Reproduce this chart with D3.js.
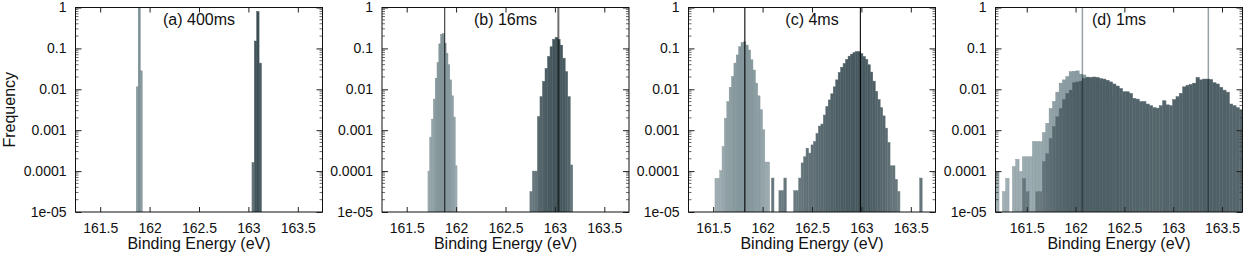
<!DOCTYPE html>
<html>
<head>
<meta charset="utf-8">
<script src="https://cdn.jsdelivr.net/npm/d3@7"></script>
<style>
  body { margin: 0; background: #fff; }
  svg { display: block; font-family: "Liberation Sans", Arial, sans-serif; }
  .tick text { font-size: 14px; fill: #111; }
</style>
</head>
<body>
<div id="chart"></div>
<script>
const WIDTH = 1243, HEIGHT = 257;
const TOP = 7.5, BOTTOM = 212, PLOT_W = 247;
const panelLeft = [75.5, 382, 688.5, 995.5];

// chart data
const titles = ["(a) 400ms", "(b) 16ms", "(c) 4ms", "(d) 1ms"];
const xTicks = [161.5, 162, 162.5, 163, 163.5];
const yTicks = [1e-5, 1e-4, 1e-3, 1e-2, 1e-1, 1];
const yTickLabels = ["1e-05", "0.0001", "0.001", "0.01", "0.1", "1"];
const xDomains = [[161.25, 163.75], [161.25, 163.75], [161.25, 163.75], [161.18, 163.71]];

// histogram bins: first bin edge (eV), bin width (eV), log10 of frequency per bin (null = empty)
const lightStart = [161.865, 161.715, 161.518, 161.182];
const lightStep = [0.02, 0.0184, 0.024, 0.0342];
const lightLogFreq = [
  [-1.94, -0.02, -1.55],
  [-4.0, -3.17, -2.73, -2.24, -1.73, -1.35, -0.89, -0.66, -0.64, -0.87, -1.12, -1.4, -1.77, -2.16, -2.68, -3.87],
  [-4.18, -4.18, -3.99, -3.40, -2.71, -2.30, -1.95, -1.69, -1.36, -1.16, -0.96, -0.86, -0.84, -0.92, -1.04, -1.28,
   -1.53, -1.85, -2.16, -2.5, -2.99, -3.78, -3.78],
  [-4.01, null, -4.5, -4.18, null, -3.89, -3.71, -4.01, -3.65, -3.65, -3.65, -3.28, -3.28, -3.28, -3.06, -2.83,
   -2.47, -2.3, -2.07, -1.85, -1.77, -1.69, -1.57, -1.56, -1.55, -1.63, -1.65, -1.7, -1.75, -1.8, -1.85, -1.9,
   -2.0, -2.1, -2.2]
];
const darkStart = [163.036, 162.747, 162.09, 161.182];
const darkStep = [0.024, 0.0255, 0.025, 0.0342];
const darkLogFreq = [
  [-3.79, -0.82, -0.1, -1.36],
  [-4.5, -4.0, -4.0, -2.67, -2.18, -1.81, -1.49, -1.2, -0.96, -0.78, -0.73, -0.78, -0.92, -1.24, -1.57, -2.18, -3.85],
  [-4.17, null, null, -4.48, -4.48, -4.17, null, null, null, -4.48, -4.48, -4.17, -3.8, -3.65, -3.44, -3.56,
   -3.36, -3.28, -3.08, -2.9, -2.85, -2.63, -2.42, -2.26, -2.11, -1.94, -1.77, -1.59, -1.46, -1.37, -1.27, -1.19,
   -1.14, -1.1, -1.08, -1.08, -1.13, -1.2, -1.27, -1.4, -1.58, -1.8, -2.05, -2.25, -2.45, -2.65, -2.95, -3.3,
   -3.87, -3.87, -4.2, -4.5, null, null, null, null, null, null, null, null, -4.17],
  [null, null, null, null, null, null, null, null, -4.18, -4.5, null, null, -4.5, -4.5, -3.77, -3.57,
   -3.2, -2.91, -2.67, -2.47, -2.25, -2.1, -2.02, -1.84, -1.82, -1.8, -1.73, -1.71, -1.71, -1.7, -1.71, -1.74,
   -1.75, -1.78, -1.82, -1.87, -1.92, -1.98, -2.06, -2.06, -2.1, -2.22, -2.24, -2.3, -2.3, -2.36, -2.4, -2.45,
   -2.46, -2.4, -2.28, -2.38, -2.4, -2.25, -2.18, -2.1, -1.94, -1.9, -1.88, -1.85, -1.71, -1.77, -1.75, -1.75,
   -1.76, -1.84, -1.87, -1.95, -2.02, -2.07, -2.36, -2.4, -2.45, -2.5]
];
// peak position markers (eV)
const peakLines = [[], [161.885, 163.035], [161.82, 162.99], [162.07, 163.36]];
const peakLineColor = [["#222", "#222"], ["#222", "#707070"], ["#1a1a1a", "#1a1a1a"], ["#95a3a7", "#95a3a7"]];
const peakLineWidth = [[1, 1], [1, 2], [1.2, 1.2], [1.5, 1.5]];

const svg = d3.select("#chart").append("svg")
  .attr("width", WIDTH)
  .attr("height", HEIGHT);

const y = d3.scaleLog().domain([1e-5, 1]).range([BOTTOM, TOP]);
const shade = t => Math.max(0, Math.min(1, (t + 5) / 5));
const lightColor = d3.interpolateRgb("#a6b5b9", "#7e9297");
const darkColor = d3.interpolateRgb("#6e7e83", "#3c4e54");

function bins(start, step, vals) {
  let out = [];
  vals.forEach(function(v, i) {
    if (v !== null) out.push({ x0: start + i * step, x1: start + (i + 1) * step, f: Math.pow(10, v), lg: v });
  });
  return out;
}

titles.forEach(function(title, p) {
  let x = d3.scaleLinear().domain(xDomains[p]).range([0, PLOT_W]);
  let g = svg.append("g").attr("transform", "translate(" + panelLeft[p] + ",0)");

  let clipId = "clip" + p;
  g.append("clipPath").attr("id", clipId)
    .append("rect").attr("x", 0).attr("y", TOP).attr("width", PLOT_W).attr("height", BOTTOM - TOP);
  let plot = g.append("g").attr("clip-path", "url(#" + clipId + ")");

  // light series, then dark series on top
  plot.selectAll(".light")
    .data(bins(lightStart[p], lightStep[p], lightLogFreq[p]))
    .enter().append("rect")
    .attr("class", "light")
    .attr("x", d => x(d.x0))
    .attr("width", d => x(d.x1) - x(d.x0))
    .attr("y", d => y(d.f))
    .attr("height", d => BOTTOM - y(d.f))
    .attr("fill", d => lightColor(shade(d.lg)))
    .attr("stroke", d => d3.color(lightColor(shade(d.lg))).darker(0.25))
    .attr("stroke-width", 0.5);

  plot.selectAll(".dark")
    .data(bins(darkStart[p], darkStep[p], darkLogFreq[p]))
    .enter().append("rect")
    .attr("class", "dark")
    .attr("x", d => x(d.x0))
    .attr("width", d => x(d.x1) - x(d.x0))
    .attr("y", d => y(d.f))
    .attr("height", d => BOTTOM - y(d.f))
    .attr("fill", d => darkColor(shade(d.lg)))
    .attr("stroke", d => d3.color(darkColor(shade(d.lg))).brighter(0.2))
    .attr("stroke-width", 0.5);

  // peak markers
  plot.selectAll(".peak")
    .data(peakLines[p])
    .enter().append("line")
    .attr("x1", d => x(d)).attr("x2", d => x(d))
    .attr("y1", TOP).attr("y2", BOTTOM)
    .attr("stroke", (d, i) => peakLineColor[p][i])
    .attr("stroke-width", (d, i) => peakLineWidth[p][i])
    .style("mix-blend-mode", "multiply");

  // axes (ticks point inward, mirrored)
  let xb = g.append("g").attr("transform", "translate(0," + BOTTOM + ")")
    .call(d3.axisBottom(x).tickValues(xTicks).tickFormat(d3.format("")).tickSizeInner(-5).tickSizeOuter(0).tickPadding(11));
  g.append("g").attr("transform", "translate(0," + TOP + ")")
    .call(d3.axisTop(x).tickValues(xTicks).tickFormat("").tickSizeInner(-5).tickSizeOuter(0));
  let yl = g.append("g")
    .call(d3.axisLeft(y).tickValues(yTicks).tickFormat((d, i) => yTickLabels[i]).tickSizeInner(-6).tickSizeOuter(0).tickPadding(9));
  g.append("g").attr("transform", "translate(" + PLOT_W + ",0)")
    .call(d3.axisRight(y).tickValues(yTicks).tickFormat("").tickSizeInner(-6).tickSizeOuter(0));
  g.selectAll(".domain").remove();
  g.selectAll(".tick line").attr("stroke", "#222");

  // minor log ticks
  let minor = [];
  for (let e = -5; e < 0; e++) for (let m = 2; m <= 9; m++) minor.push(m * Math.pow(10, e));
  g.selectAll(".minorL").data(minor).enter().append("line")
    .attr("x1", 0).attr("x2", 3).attr("y1", d => y(d)).attr("y2", d => y(d))
    .attr("stroke", "#444").attr("stroke-width", 0.8);
  g.selectAll(".minorR").data(minor).enter().append("line")
    .attr("x1", PLOT_W - 3).attr("x2", PLOT_W).attr("y1", d => y(d)).attr("y2", d => y(d))
    .attr("stroke", "#444").attr("stroke-width", 0.8);

  // frame
  g.append("rect")
    .attr("x", 0).attr("y", TOP).attr("width", PLOT_W).attr("height", BOTTOM - TOP)
    .attr("fill", "none").attr("stroke", "#111").attr("stroke-width", 1);

  g.append("text")
    .attr("x", PLOT_W / 2).attr("y", 24.5)
    .attr("text-anchor", "middle")
    .style("font-size", "16px").attr("fill", "#111")
    .text(title);

  g.append("text")
    .attr("x", PLOT_W / 2).attr("y", 249)
    .attr("text-anchor", "middle")
    .style("font-size", "16px").attr("fill", "#111")
    .text("Binding Energy (eV)");
});

svg.append("text")
  .attr("transform", "translate(15," + ((TOP + BOTTOM) / 2) + ") rotate(-90)")
  .attr("text-anchor", "middle")
  .style("font-size", "16px").attr("fill", "#111")
  .text("Frequency");
</script>
</body>
</html>
